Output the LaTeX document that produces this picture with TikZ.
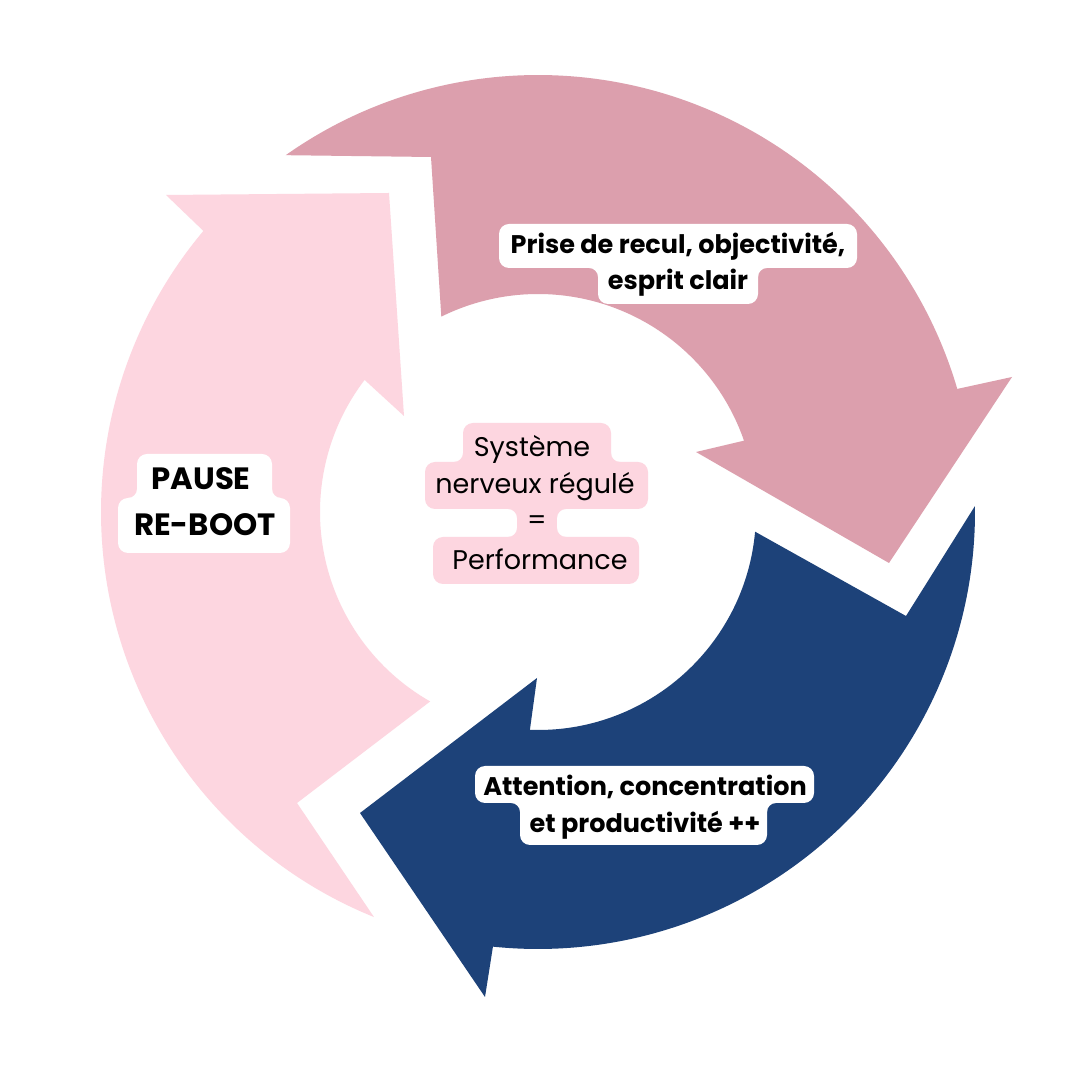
\documentclass[tikz,border=0pt]{standalone}
\usepackage{fontspec}
\setmainfont{Poppins}
\usetikzlibrary{calc}
\definecolor{pinkL}{HTML}{FDD6E0}
\definecolor{mauve}{HTML}{DC9FAD}
\definecolor{navy}{HTML}{1D4279}
\def\fr{9}
\newcommand\filc[5]{\fill[#5] (#1,#2) -- ({#1+(#3)*\fr},#2) .. controls ({#1+(#3)*0.448*\fr},#2) and (#1,{#2+(#4)*0.448*\fr}) .. (#1,{#2+(#4)*\fr}) -- cycle;}
\tikzset{
  lbl/.style={font=\fontsize{25.5}{30}\selectfont\bfseries, inner sep=0pt, anchor=base, text=black},
  big/.style={font=\fontsize{30.8}{36}\selectfont\bfseries, inner sep=0pt, anchor=base, text=black},
  mid/.style={font=\fontsize{27}{32}\selectfont, inner sep=0pt, anchor=base, text=black},
  hl/.style={rounded corners=10pt}
}
\begin{document}
\begin{tikzpicture}[x=1pt,y=1pt]
\useasboundingbox (0,0) rectangle (1080,1080);
\fill[white] (0,0) rectangle (1080,1080);
\coordinate (C) at (538,568);
% pink arrow
\fill[pinkL] ($(C)+(247.95:437)$) arc[start angle=247.95, end angle=139.97, radius=437] -- (166,885) -- (389,887) -- (404,664) -- ($(C)+(142.7:218)$) arc[start angle=142.7, end angle=240.35, radius=218] -- (297,277) -- cycle;
% mauve arrow
\fill[mauve] ($(C)+(125.26:437)$) arc[start angle=125.26, end angle=16.36, radius=437] -- (1012,703) -- (889,517) -- (696,628) -- ($(C)+(19.1:218)$) arc[start angle=19.1, end angle=116.33, radius=218] -- (431,923) -- cycle;
% navy arrow
\fill[navy] ($(C)+(0.78:437)$) arc[start angle=0.78, end angle=-95.92, radius=437] -- (485,83) -- (360,267) -- (537,402) -- ($(C)+(-92.13:218)$) arc[start angle=-92.13, end angle=-5.19, radius=218] -- (906,464) -- cycle;
% label A
\fill[white,hl] (499,812) rectangle (857,856);
\fill[white,hl] (598,776) rectangle (758,822);
\filc{598}{812}{-1}{-1}{white}
\filc{758}{812}{1}{-1}{white}
\node[lbl] (tA1) at (678,826) {Prise de recul, objectivité,};
\node[lbl] (tA2) at (678,790) {esprit clair};
% label B
\fill[white,hl] (137,570) rectangle (272,626);
\fill[white,hl] (118,527) rectangle (290,582);
\filc{137}{582}{-1}{1}{white}
\filc{272}{582}{1}{1}{white}
\node[big] (tB1) at (201,590) {PAUSE};
\node[big] (tB2) at (205,544) {RE-BOOT};
% label C
\fill[pinkL,hl] (463,605) rectangle (611,657);
\fill[pinkL,hl] (425,571) rectangle (648,618);
\fill[pinkL] (517,535) rectangle (557,580);
\fill[pinkL,hl] (433,496) rectangle (639,543);
\filc{463}{618}{-1}{1}{pinkL}
\filc{611}{618}{1}{1}{pinkL}
\filc{517}{571}{-1}{-1}{pinkL}
\filc{557}{571}{1}{-1}{pinkL}
\filc{517}{543}{-1}{1}{pinkL}
\filc{557}{543}{1}{1}{pinkL}
\node[mid] (tC1) at (532,623) {Système};
\node[mid] (tC2) at (535,586) {nerveux régulé};
\node[mid, anchor=center] (tC3) at (537,557) {=};
\node[mid] (tC4) at (540,510) {Performance};
% label D
\fill[white,hl] (475,277) rectangle (814,314);
\fill[white,hl] (520,235) rectangle (767,290);
\filc{520}{277}{-1}{-1}{white}
\filc{767}{277}{1}{-1}{white}
\node[lbl] (tD1) at (645,284) {Attention, concentration};
\node[lbl] (tD2) at (645,247) {et productivité ++};
\end{tikzpicture}
\end{document}
